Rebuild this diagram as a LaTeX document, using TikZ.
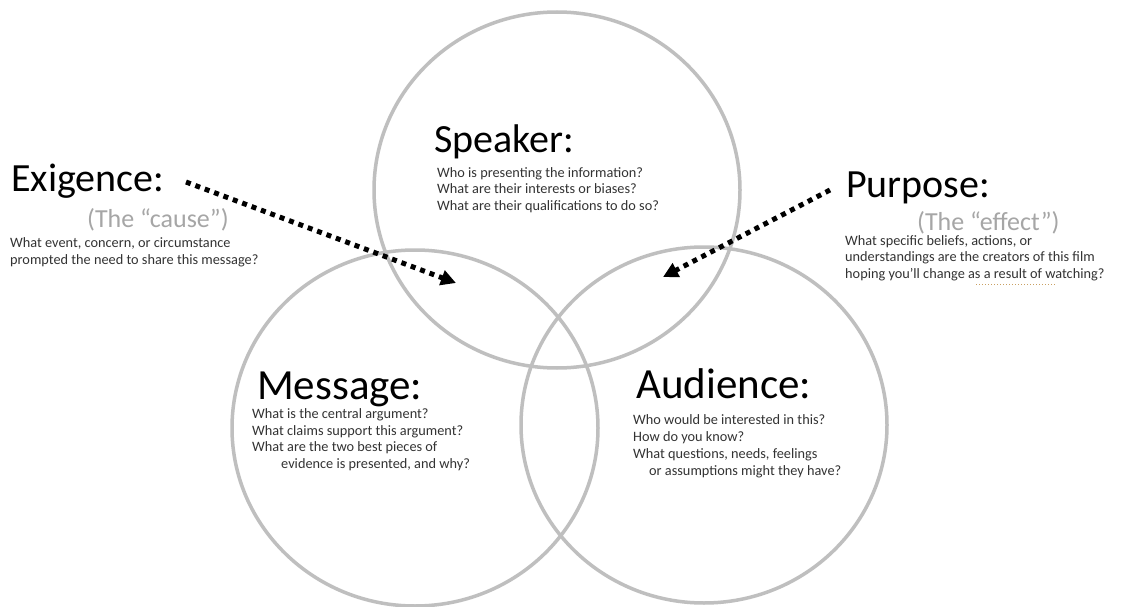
\documentclass[tikz,border=0pt]{standalone}
\usepackage{fontspec}
\setmainfont{Carlito}
\usetikzlibrary{arrows.meta,shapes.geometric}
\definecolor{ringgray}{HTML}{BFBFBF}
\definecolor{subgray}{HTML}{A6A6A6}
\definecolor{bodytext}{HTML}{333333}
\definecolor{spellmark}{HTML}{C9A063}
\begin{document}
\begin{tikzpicture}[x=1pt,y=-1pt,
  ring/.style={draw=ringgray, line width=3.5pt, ellipse, inner sep=0pt,
    minimum width=366pt, minimum height=356pt},
  titletext/.style={anchor=base west, inner sep=0pt, font=\fontsize{40}{48}\selectfont},
  bigtitle/.style={anchor=base west, inner sep=0pt, font=\fontsize{43}{52}\selectfont},
  subtext/.style={anchor=base west, inner sep=0pt, text=subgray, font=\fontsize{26}{31}\selectfont},
  bodyblock/.style={anchor=base west, inner sep=0pt, text=bodytext, align=left,
    font=\fontsize{14.3}{16.7}\selectfont},
  dotarrow/.style={line width=5pt, dash pattern=on 5pt off 5pt,
    -{Triangle[length=15pt,width=15pt]}},
  spell/.style={draw=spellmark, line width=1pt, dotted}
]
\useasboundingbox (0,0) rectangle (1133,607);
\fill[white] (0,0) rectangle (1133,607);

% circles
\node[ring] (speaker) at (557,190) {};
\node[ring] (message) at (415,428) {};
\node[ring] (audience) at (704,425) {};

% Exigence (body anchored at the baseline of its last line)
\node[titletext] (exTitle) at (11,191) {Exigence:};
\node[subtext] (exSub) at (87,227) {(The “cause”)};
\node[bodyblock] (exBody) at (10,264) {What event, concern, or circumstance\\prompted the need to share this message?};

% Purpose
\node[titletext] (puTitle) at (846,197) {Purpose:};
\node[subtext] (puSub) at (917,230) {(The “effect”)};
\node[bodyblock] (puBody) at (845,278.5) {What specific beliefs, actions, or\\understandings are the creators of this film\\hoping you’ll change as a result of watching?};
\coordinate (spellA) at (976,284);
\coordinate (spellB) at (1055,284);
\draw[spell] (spellA) -- (spellB);

% Speaker
\node[titletext] (spTitle) at (434,153) {Speaker:};
\node[bodyblock] (spBody) at (437,210.5) {Who is presenting the information?\\What are their interests or biases?\\What are their qualifications to do so?};

% Message
\node[bigtitle] (meTitle) at (257,399.5) {Message:};
\node[bodyblock] (meBody) at (252,468.5) {What is the central argument?\\What claims support this argument?\\What are the two best pieces of\\\hspace*{29pt}evidence is presented, and why?};

% Audience
\node[bigtitle] (auTitle) at (636,398) {Audience:};
\node[bodyblock] (auBody) at (633,475) {Who would be interested in this?\\How do you know?\\What questions, needs, feelings\\\hspace*{16pt}or assumptions might they have?};

% arrows
\coordinate (exStart) at (186,182);
\coordinate (exEnd) at (456,283);
\coordinate (puStart) at (830,190);
\coordinate (puEnd) at (663,277);
\draw[dotarrow] (exStart) -- (exEnd);
\draw[dotarrow] (puStart) -- (puEnd);
\end{tikzpicture}
\end{document}
